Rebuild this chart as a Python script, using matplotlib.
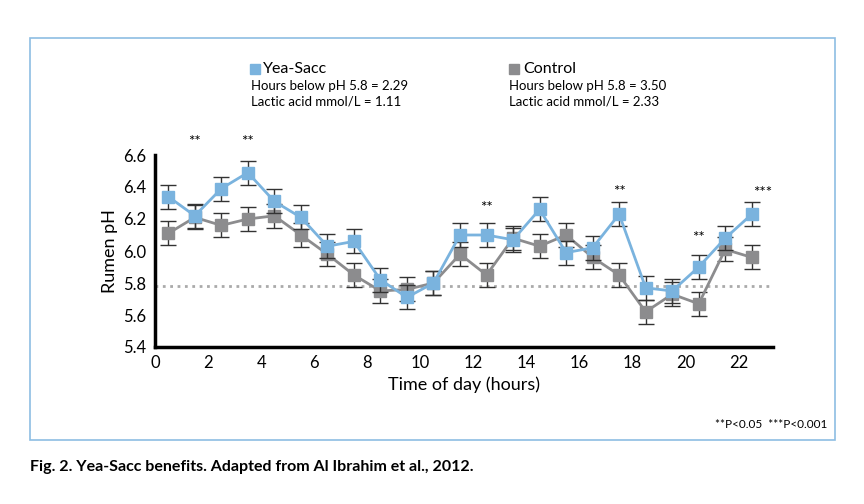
import matplotlib
matplotlib.use("Agg")
import matplotlib.pyplot as plt
from matplotlib.patches import Rectangle

hours = [0.5,1.5,2.5,3.5,4.5,5.5,6.5,7.5,8.5,9.5,10.5,11.5,12.5,13.5,14.5,15.5,16.5,17.5,18.5,19.5,20.5,21.5,22.5]
yea = [6.34,6.22,6.39,6.49,6.31,6.21,6.03,6.06,5.82,5.71,5.80,6.10,6.10,6.07,6.26,5.99,6.02,6.23,5.77,5.75,5.90,6.08,6.23]
ctrl = [6.11,6.21,6.16,6.20,6.22,6.10,5.98,5.85,5.75,5.76,5.80,5.98,5.85,6.08,6.03,6.10,5.96,5.85,5.62,5.73,5.67,6.01,5.96]
err = 0.075
sig = [(1.5,"**",6.68),(3.5,"**",6.68),(12.5,"**",6.27),(17.5,"**",6.37),(20.5,"**",6.08),(22.9,"***",6.36)]

plt.rcParams['font.family'] = ['Lato', 'DejaVu Sans']
fig = plt.figure(figsize=(8.64,5.04), dpi=100)
fig.patches.append(Rectangle((30/864, 1-440/504), 805/864, 402/504, transform=fig.transFigure,
                             fill=False, edgecolor='#8dbde3', lw=1.2))
ax = fig.add_axes([155/864, 1-347/504, (773-155)/864, (347-155)/504])
blue = '#7ab3de'; gray = '#8c8c8e'
ax.errorbar(hours, ctrl, yerr=err, color=gray, marker='s', ms=9, lw=2, ecolor='#333333', elinewidth=1, capsize=6, zorder=2)
ax.errorbar(hours, yea, yerr=err, color=blue, marker='s', ms=9, lw=2, ecolor='#333333', elinewidth=1, capsize=6, zorder=3)
ax.axhline(5.78, color='#aaaaaa', ls=':', lw=2, zorder=1)
for x, s, y in sig:
    ax.text(x, y, s, ha='center', va='center', fontsize=11, clip_on=False)
ax.set_xlim(0, 23.3)
ax.set_ylim(5.4, 6.6)
ax.set_xticks(range(0, 23, 2))
ax.set_yticks([5.4,5.6,5.8,6.0,6.2,6.4,6.6])
ax.set_yticklabels(['5.4','5.6','5.8','6.0','6.2','6.4','6.6'])
for s in ['top','right']:
    ax.spines[s].set_visible(False)
for s in ['left','bottom']:
    ax.spines[s].set_linewidth(2.5)
ax.tick_params(length=0, labelsize=12, pad=6)
ax.set_xlabel('Time of day (hours)', fontsize=13)
ax.set_ylabel('Rumen pH', fontsize=13)

fig.patches.append(Rectangle((250/864, 1-74/504), 10/864, 10/504, transform=fig.transFigure, color=blue))
fig.text(263/864, 1-69/504, 'Yea-Sacc', fontsize=11.5, va='center')
fig.text(251/864, 1-86/504, 'Hours below pH 5.8 = 2.29', fontsize=9.5, va='center')
fig.text(251/864, 1-102/504, 'Lactic acid mmol/L = 1.11', fontsize=9.5, va='center')
fig.patches.append(Rectangle((509/864, 1-74/504), 10/864, 10/504, transform=fig.transFigure, color=gray))
fig.text(523/864, 1-69/504, 'Control', fontsize=11.5, va='center')
fig.text(509/864, 1-86/504, 'Hours below pH 5.8 = 3.50', fontsize=9.5, va='center')
fig.text(509/864, 1-102/504, 'Lactic acid mmol/L = 2.33', fontsize=9.5, va='center')
fig.text(827/864, 1-424/504, '**P<0.05  ***P<0.001', fontsize=8.5, ha='right', va='center')
fig.text(30/864, 1-467/504, 'Fig. 2. Yea-Sacc benefits. Adapted from Al Ibrahim et al., 2012.', fontsize=11.5,
         fontweight='bold', va='center')
fig.savefig('out.png', dpi=100)
